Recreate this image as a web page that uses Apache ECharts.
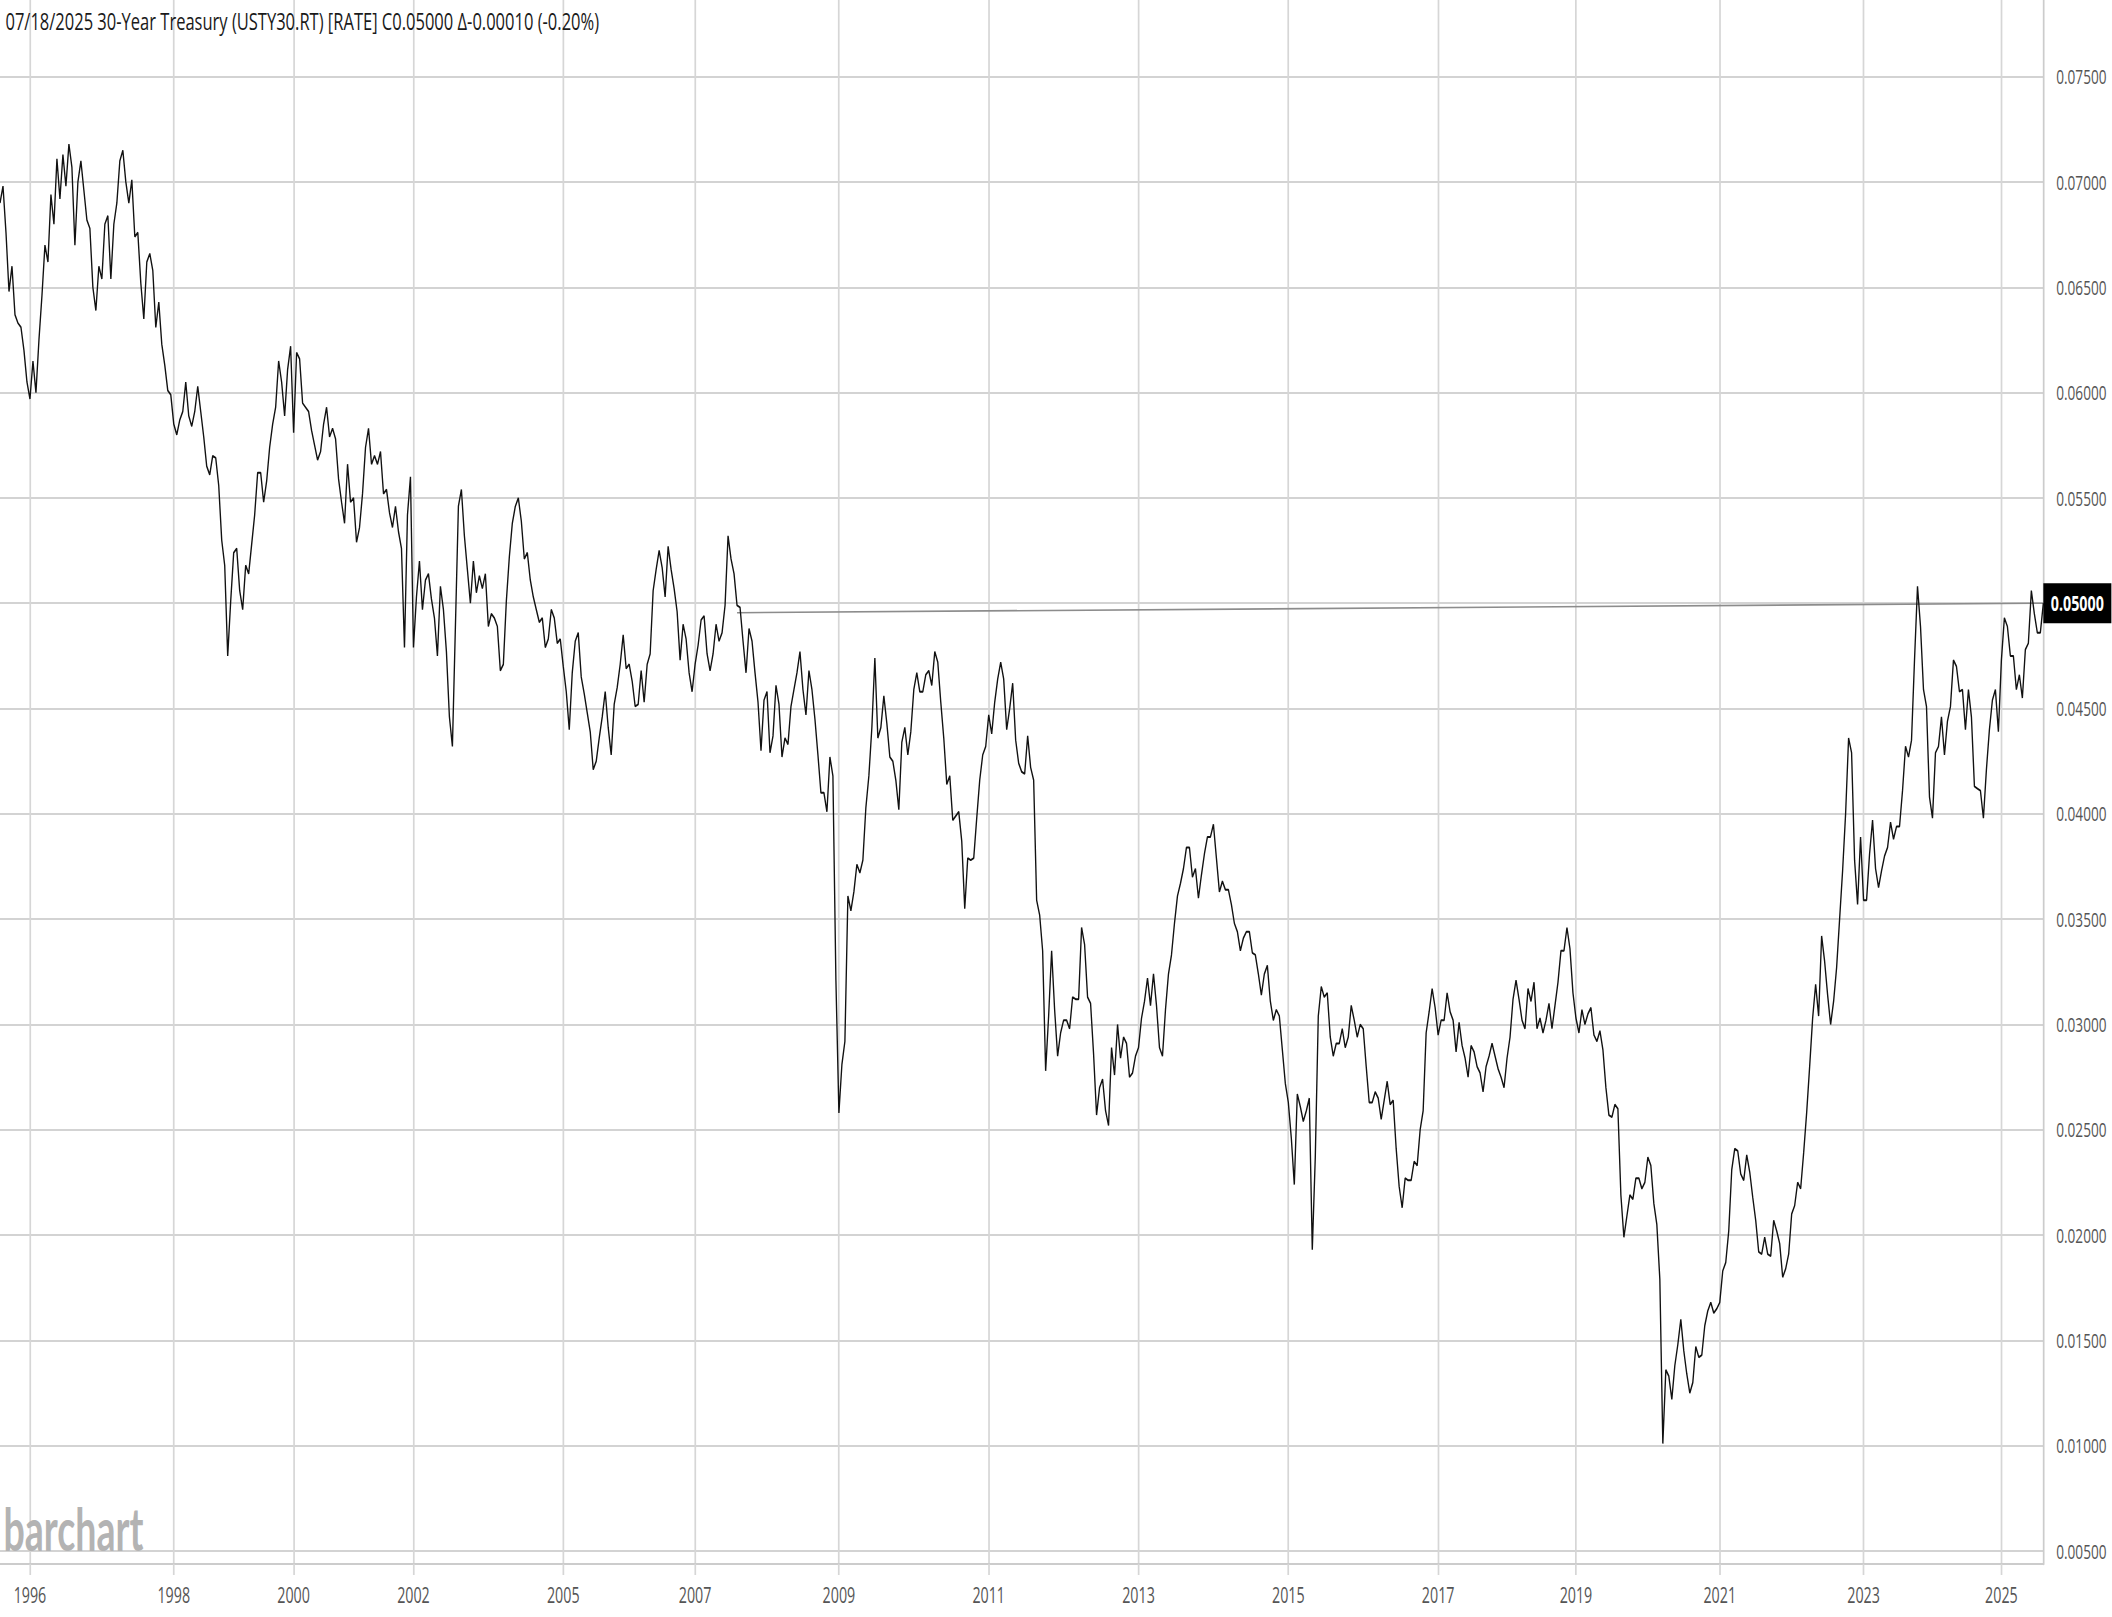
<!DOCTYPE html>
<html>
<head>
<meta charset="utf-8">
<script src="https://cdn.jsdelivr.net/npm/echarts@6/dist/echarts.min.js"></script>
<style>
html,body{margin:0;padding:0;overflow:hidden;background:#fff;width:2112px;height:1617px;}
#wrap{width:2112px;height:1617px;overflow:hidden;position:relative;background:#fff;}
#chart{width:3106px;height:1617px;transform:scaleX(0.67998);transform-origin:0 0;position:absolute;left:0;top:0;}
</style>
</head>
<body>
<div id="wrap"><div id="chart"></div></div>
<script>
// ---- data: 30-Year Treasury yield, samples per year ----
const years = [1995,1996,1997,1998,1999,2000,2001,2002,2003,2004,2005,2006,2007,2008,2009,2010,2011,2012,2013,2014,2015,2016,2017,2018,2019,2020,2021,2022,2023,2024,2025];
const r1995 = [0.0690,0.0698,0.0676,0.0648,0.0660,0.0637,0.0633,0.0631,0.0620,0.0605];
const r1996 = [0.0597,0.0615,0.0600,0.0625,0.0646,0.0670,0.0662,0.0694,0.0680,0.0711,0.0692,0.0713,0.0698,0.0718,0.0707,0.0670,0.0700,0.0710,0.0696,0.0682,0.0678,0.0650,0.0639,0.0660];
const r1997 = [0.0654,0.0680,0.0684,0.0654,0.0680,0.0690,0.0710,0.0715,0.0700,0.0690,0.0701,0.0674,0.0676,0.0652,0.0635,0.0662,0.0666,0.0658,0.0631,0.0643,0.0623,0.0613,0.0601,0.0599];
const r1998 = [0.0585,0.0580,0.0587,0.0591,0.0605,0.0589,0.0584,0.0591,0.0603,0.0591,0.0579,0.0565,0.0561,0.0570,0.0569,0.0556,0.0530,0.0518,0.0475,0.0501];
const r1999 = [0.0524,0.0526,0.0506,0.0497,0.0518,0.0514,0.0528,0.0542,0.0562,0.0562,0.0548,0.0558,0.0574,0.0585,0.0593,0.0615,0.0605,0.0589,0.0611,0.0622];
const r2000 = [0.0581,0.0619,0.0616,0.0595,0.0593,0.0591,0.0582,0.0575,0.0568,0.0572,0.0585,0.0593,0.0579,0.0583,0.0578,0.0559,0.0548,0.0538,0.0566,0.0548];
const r2001 = [0.0550,0.0529,0.0536,0.0552,0.0574,0.0583,0.0566,0.0570,0.0566,0.0572,0.0552,0.0554,0.0543,0.0536,0.0546,0.0534,0.0526,0.0479,0.0542,0.0560];
const r2002 = [0.0479,0.0503,0.0520,0.0497,0.0511,0.0514,0.0502,0.0493,0.0475,0.0508,0.0497,0.0477,0.0446,0.0432,0.0489,0.0546];
const r2003 = [0.0554,0.0532,0.0516,0.0500,0.0520,0.0505,0.0513,0.0507,0.0514,0.0489,0.0495,0.0493,0.0489,0.0468,0.0471,0.0501];
const r2004 = [0.0522,0.0538,0.0546,0.0550,0.0539,0.0521,0.0524,0.0511,0.0503,0.0497,0.0491,0.0493,0.0479,0.0483,0.0497,0.0493,0.0481,0.0483];
const r2005 = [0.0470,0.0458,0.0440,0.0467,0.0482,0.0486,0.0465,0.0457,0.0448,0.0439,0.0421,0.0425,0.0436,0.0446,0.0458,0.0441,0.0428,0.0452,0.0460,0.0471,0.0485,0.0469];
const r2006 = [0.0471,0.0463,0.0451,0.0452,0.0468,0.0453,0.0471,0.0476,0.0506,0.0516,0.0525,0.0517,0.0503,0.0527,0.0516,0.0507,0.0496,0.0473,0.0490,0.0483,0.0467,0.0458];
const r2007 = [0.0471,0.0480,0.0492,0.0494,0.0476,0.0468,0.0476,0.0490,0.0482,0.0486,0.0499,0.0532,0.0521,0.0514,0.0499,0.0498,0.0482,0.0467,0.0488,0.0482,0.0467,0.0453,0.0430,0.0454];
const r2008 = [0.0458,0.0429,0.0437,0.0461,0.0452,0.0427,0.0436,0.0433,0.0451,0.0459,0.0467,0.0477,0.0459,0.0447,0.0468,0.0459,0.0445,0.0428,0.0410,0.0410,0.0401,0.0427,0.0418,0.0321];
const r2009 = [0.0258,0.0281,0.0292,0.0361,0.0354,0.0363,0.0376,0.0372,0.0378,0.0403,0.0418,0.0441,0.0474,0.0436,0.0441,0.0456,0.0443,0.0427,0.0425,0.0416,0.0402,0.0434,0.0441,0.0428];
const r2010 = [0.0439,0.0459,0.0467,0.0458,0.0458,0.0466,0.0468,0.0461,0.0477,0.0472,0.0453,0.0436,0.0414,0.0418,0.0397,0.0399,0.0401,0.0387,0.0355,0.0379,0.0378,0.0379,0.0398,0.0416,0.0428,0.0432];
const r2011 = [0.0447,0.0438,0.0453,0.0464,0.0472,0.0464,0.0440,0.0450,0.0462,0.0435,0.0424,0.0420,0.0419,0.0437,0.0422,0.0416,0.0359,0.0352,0.0335,0.0278,0.0304,0.0335,0.0307,0.0285];
const r2012 = [0.0296,0.0302,0.0302,0.0298,0.0313,0.0312,0.0312,0.0346,0.0338,0.0313,0.0310,0.0286,0.0257,0.0270,0.0274,0.0259,0.0252,0.0289,0.0276,0.0300,0.0284,0.0294,0.0291,0.0275,0.0277,0.0285];
const r2013 = [0.0289,0.0303,0.0311,0.0322,0.0309,0.0324,0.0309,0.0289,0.0285,0.0307,0.0324,0.0333,0.0348,0.0361,0.0367,0.0374,0.0384,0.0384,0.0370,0.0374,0.0360,0.0371,0.0381,0.0389];
const r2014 = [0.0389,0.0395,0.0379,0.0363,0.0368,0.0364,0.0364,0.0357,0.0348,0.0344,0.0335,0.0341,0.0344,0.0344,0.0334,0.0333,0.0324,0.0314,0.0324,0.0328,0.0311,0.0302,0.0307,0.0304,0.0288,0.0272];
const r2015 = [0.0263,0.0246,0.0224,0.0267,0.0261,0.0254,0.0259,0.0265,0.0193,0.0237,0.0304,0.0318,0.0313,0.0315,0.0294,0.0285,0.0291,0.0291,0.0298,0.0289,0.0294,0.0309,0.0302,0.0294];
const r2016 = [0.0300,0.0298,0.0280,0.0263,0.0263,0.0268,0.0265,0.0255,0.0264,0.0273,0.0262,0.0264,0.0241,0.0223,0.0213,0.0227,0.0226,0.0226,0.0235,0.0233,0.0250,0.0259,0.0296,0.0306,0.0317,0.0308];
const r2017 = [0.0295,0.0302,0.0302,0.0315,0.0306,0.0302,0.0287,0.0301,0.0290,0.0284,0.0275,0.0290,0.0287,0.0280,0.0277,0.0268,0.0280,0.0285,0.0291,0.0285,0.0279,0.0275];
const r2018 = [0.0270,0.0284,0.0294,0.0312,0.0321,0.0312,0.0302,0.0298,0.0317,0.0311,0.0320,0.0298,0.0303,0.0296,0.0302,0.0310,0.0298,0.0309,0.0320,0.0335,0.0335,0.0346,0.0336,0.0315];
const r2019 = [0.0303,0.0296,0.0307,0.0300,0.0305,0.0308,0.0295,0.0292,0.0297,0.0288,0.0270,0.0257,0.0256,0.0262,0.0260,0.0219,0.0199,0.0209,0.0219,0.0217,0.0227,0.0227,0.0222,0.0225];
const r2020 = [0.0237,0.0233,0.0215,0.0205,0.0179,0.0101,0.0136,0.0133,0.0122,0.0138,0.0148,0.0160,0.0145,0.0134,0.0125,0.0130,0.0147,0.0142,0.0143,0.0157,0.0164,0.0168,0.0163,0.0165];
const r2021 = [0.0168,0.0183,0.0187,0.0202,0.0231,0.0241,0.0240,0.0229,0.0226,0.0238,0.0230,0.0218,0.0207,0.0192,0.0191,0.0199,0.0191,0.0190,0.0207,0.0202,0.0196,0.0180,0.0184,0.0191];
const r2022 = [0.0210,0.0214,0.0225,0.0222,0.0239,0.0258,0.0280,0.0303,0.0319,0.0304,0.0342,0.0330,0.0314,0.0300,0.0311,0.0327,0.0350,0.0373,0.0400,0.0436,0.0429,0.0378,0.0357,0.0389];
const r2023 = [0.0359,0.0359,0.0381,0.0397,0.0374,0.0365,0.0373,0.0380,0.0384,0.0396,0.0388,0.0394,0.0394,0.0411,0.0432,0.0427,0.0435,0.0473,0.0508,0.0489,0.0459,0.0451];
const r2024 = [0.0408,0.0398,0.0429,0.0432,0.0446,0.0428,0.0444,0.0451,0.0473,0.0470,0.0458,0.0459,0.0440,0.0459,0.0446,0.0413,0.0412,0.0411,0.0398,0.0421,0.0440,0.0454,0.0459,0.0439];
const r2025 = [0.0473,0.0493,0.0489,0.0475,0.0475,0.0459,0.0466,0.0455,0.0478,0.0481,0.0506,0.0495,0.0486,0.0486,0.0500];
const ratesByYear = [r1995,r1996,r1997,r1998,r1999,r2000,r2001,r2002,r2003,r2004,r2005,r2006,r2007,r2008,r2009,r2010,r2011,r2012,r2013,r2014,r2015,r2016,r2017,r2018,r2019,r2020,r2021,r2022,r2023,r2024,r2025];

const tickYears = [1996,1998,2000,2002,2005,2007,2009,2011,2013,2015,2017,2019,2021,2023,2025];
const yTicks = {min: 0.005, max: 0.075, step: 0.005};
const lastClose = 0.05000;
const titleText = '07/18/2025 30-Year Treasury (USTY30.RT) [RATE] C0.05000 \u0394-0.00010 (-0.20%)';
const logoText = 'barchart';
// drawn trend line: year, sample number within that year, value
const trendYears = [2007, 2025];
const trendSamples = [15, 15];
const trendValues = [0.04955, 0.05000];

// ---- build category axis from the per-year samples ----
const categories = [];
const values = [];
const firstIndex = {};
years.forEach(function (y, yi) {
  firstIndex[y] = categories.length;
  ratesByYear[yi].forEach(function (v, k) {
    categories.push(y + '-' + (k + 1));
    values.push(v);
  });
});
const tickSet = new Set(tickYears.map(function (y) { return firstIndex[y]; }));
const isTick = function (idx) { return tickSet.has(idx); };
const trendData = trendYears.map(function (y, i) {
  return [firstIndex[y] + trendSamples[i] - 1, trendValues[i]];
});

const FONT = '"Open Sans", "Noto Sans", sans-serif';
const chart = echarts.init(document.getElementById('chart'), null, {renderer: 'svg', width: 3106, height: 1617});
chart.setOption({
  animation: false,
  backgroundColor: '#ffffff',
  grid: [
    {left: 0, right: 101, top: 0, bottom: 53, outerBoundsMode: 'none', containLabel: false},
    {left: 0, right: 101, top: 76.7, bottom: 66, outerBoundsMode: 'none', containLabel: false}
  ],
  xAxis: [
    {
      gridIndex: 0, type: 'category', data: categories, boundaryGap: false,
      axisLine: {show: true, lineStyle: {color: '#cccccc', width: 2}},
      axisTick: {show: true, interval: isTick, length: 11, lineStyle: {color: '#d6d6d6', width: 2.5}},
      axisLabel: {
        interval: isTick,
        formatter: function (v, idx) { return isTick(idx) ? v.slice(0, 4) : ''; },
        color: '#555555', fontSize: 21, fontFamily: FONT, margin: 20
      },
      splitLine: {show: true, interval: isTick, lineStyle: {color: '#d6d6d6', width: 2.5}}
    },
    {gridIndex: 1, type: 'category', data: categories, boundaryGap: false, show: false}
  ],
  yAxis: [
    {
      gridIndex: 0, type: 'value', min: 0, max: 1, position: 'right',
      axisLine: {show: true, lineStyle: {color: '#cccccc', width: 2.5}},
      axisTick: {show: false}, axisLabel: {show: false}, splitLine: {show: false}
    },
    {
      gridIndex: 1, type: 'value', min: yTicks.min, max: yTicks.max, interval: yTicks.step, position: 'right',
      axisLine: {show: false}, axisTick: {show: false},
      axisLabel: {
        // the tick under the last-price box is covered in the original, so it is left blank
        formatter: function (v) { return Math.abs(v - lastClose) < 1e-9 ? '' : v.toFixed(5); },
        color: '#555555', fontSize: 20, fontFamily: FONT, margin: 19
      },
      splitLine: {show: true, lineStyle: {color: '#d3d3d3', width: 2}}
    }
  ],
  graphic: [
    {
      type: 'text', x: 8, y: 21, z: 100,
      style: {text: titleText, fontSize: 24.3, fontFamily: FONT, fill: '#1a1a1a',
        align: 'left', verticalAlign: 'middle', textAlign: 'left', textVerticalAlign: 'middle'}
    },
    {
      type: 'text', x: 5, y: 1528, scaleX: 0.92, z: 100,
      style: {text: logoText, fontSize: 60, fontWeight: 'bold', fontFamily: 'Lato, "Open Sans", sans-serif', fill: '#b3b3b3',
        align: 'left', verticalAlign: 'middle', textAlign: 'left', textVerticalAlign: 'middle'}
    }
  ],
  series: [
    {
      name: 'trend', type: 'line', xAxisIndex: 1, yAxisIndex: 1, data: trendData,
      symbol: 'none', silent: true, z: 2,
      lineStyle: {color: '#8c8c8c', width: 1.6}
    },
    {
      name: 'USTY30', type: 'line', xAxisIndex: 1, yAxisIndex: 1, data: values,
      symbol: 'none', silent: true, z: 3,
      lineStyle: {color: '#111111', width: 2.0},
      markLine: {
        silent: true, symbol: 'none', animation: false,
        lineStyle: {color: 'rgba(0,0,0,0)', width: 1, type: 'solid'},
        label: {
          show: true, position: 'end', distance: 0, opacity: 1,
          formatter: lastClose.toFixed(5),
          backgroundColor: '#000000', color: '#ffffff', fontWeight: 'bold',
          fontSize: 21, fontFamily: FONT, lineHeight: 40, padding: [0, 11, 0, 11]
        },
        data: [{yAxis: lastClose}]
      }
    }
  ]
});
</script>
</body>
</html>
